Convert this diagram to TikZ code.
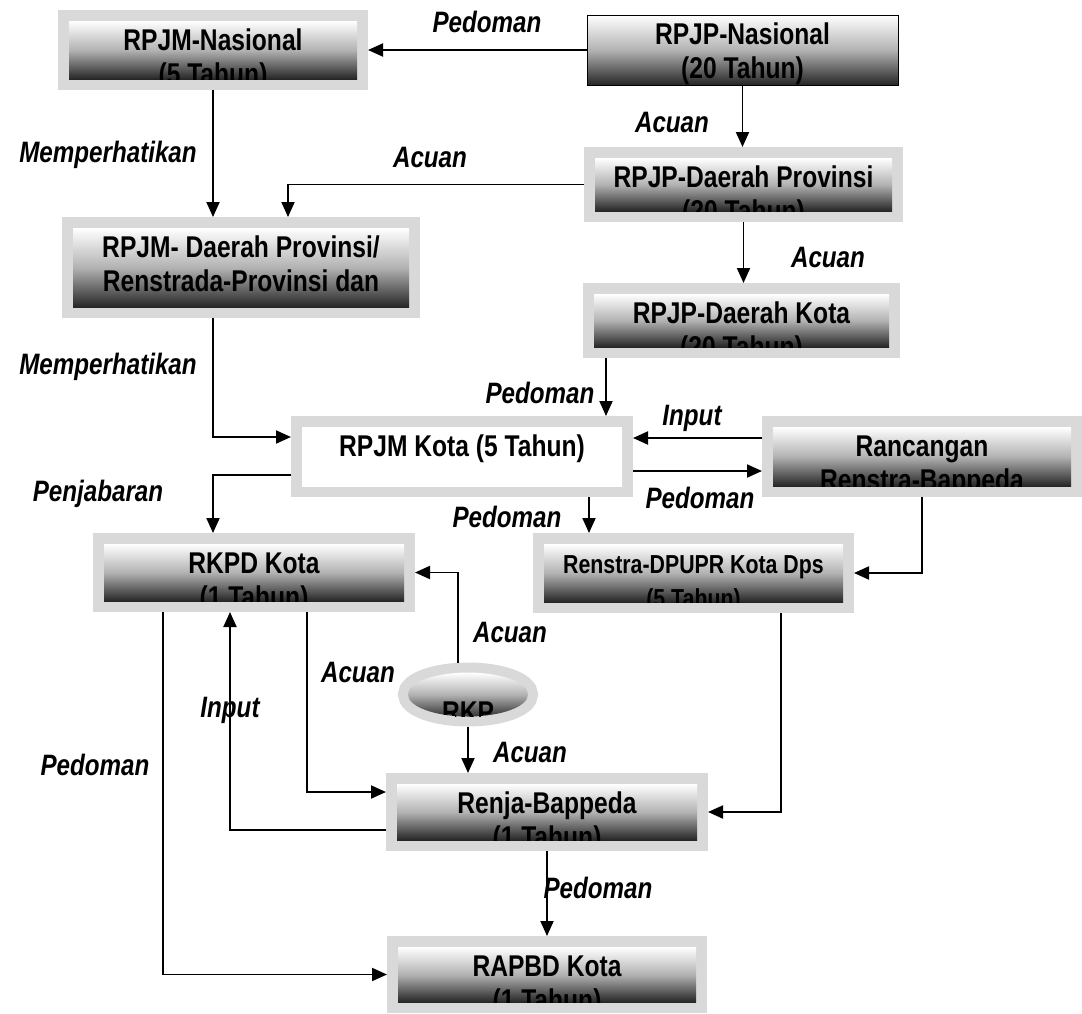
\documentclass[tikz,border=0pt]{standalone}
\usepackage{fontspec}
\setmainfont{Liberation Sans}[FakeStretch=0.82]
\usetikzlibrary{arrows.meta,shapes.geometric}
\definecolor{bingkai}{HTML}{D9D9D9}

\begin{document}
\begin{tikzpicture}[x=1pt, y=-1pt,
    teks/.style={anchor=base, inner sep=0pt, font=\fontsize{30}{34}\selectfont\bfseries},
    ket/.style={inner sep=0pt, font=\fontsize{29.5}{33}\selectfont\bfseries\itshape},
    isi/.style 2 args={rectangle, inner sep=0pt,
      top color=white, bottom color=black!85, middle color=black!30,
      path picture={
        \node[teks] at ([yshift=-29pt]path picture bounding box.north) {#1};
        \node[teks] at ([yshift=-63pt]path picture bounding box.north) {#2};}},
    kotak/.style 2 args={isi={#1}{#2}, outer sep=11pt, preaction={draw=bingkai, line width=22pt}},
    bulat/.style={ellipse, inner sep=0pt, outer sep=10pt, preaction={draw=bingkai, line width=20pt},
      top color=white, bottom color=black!80, middle color=black!30},
    panah/.style={-{Triangle[length=15pt,width=13pt]}, line width=1.9pt}]
  \useasboundingbox (0,0) rectangle (1082,1013);

  \node[kotak={RPJM-Nasional}{(5 Tahun)}, minimum width=288pt, minimum height=58pt] (rpjmnas) at (213,50) {};
  \node[isi={RPJP-Nasional}{(20 Tahun)}, draw, line width=1pt, minimum width=311pt, minimum height=70pt] (rpjpnas) at (742.5,50) {};
  \node[kotak={RPJP-Daerah Provinsi}{(20 Tahun)}, minimum width=297pt, minimum height=53pt] (rpjpprov) at (743.5,184.5) {};
  \node[kotak={RPJM- Daerah Provinsi/}{Renstrada-Provinsi dan}, minimum width=336pt, minimum height=79pt] (rpjmprov) at (241,267.5) {};
  \node[kotak={RPJP-Daerah Kota}{(20 Tahun)}, minimum width=295pt, minimum height=53pt] (rpjpdkota) at (741.5,320.5) {};
  \node[kotak={RPJM Kota (5 Tahun)}{}, top color=white, bottom color=white, middle color=white,
    minimum width=320pt, minimum height=59pt] (rpjmkota) at (462,456.5) {};
  \node[kotak={Rancangan}{Renstra-Bappeda}, minimum width=298pt, minimum height=59pt] (rancangan) at (922,456.5) {};
  \node[kotak={RKPD Kota}{(1 Tahun)}, minimum width=300pt, minimum height=57pt] (rkpd) at (254,572.5) {};
  \node[kotak={Renstra-DPUPR Kota Dps}{(5 Tahun)}, teks/.append style={font=\fontsize{26}{30}\selectfont\bfseries},
    minimum width=299pt, minimum height=58pt] (renstra) at (693.5,573) {};
  \node[bulat, minimum width=120pt, minimum height=44pt,
    path picture={\node[teks] at ([yshift=-50pt]path picture bounding box.north) {RKP};}] (rkp) at (468,694.5) {};
  \node[kotak={Renja-Bappeda}{(1 Tahun)}, minimum width=300pt, minimum height=56pt] (renja) at (547,812) {};
  \node[kotak={RAPBD Kota}{(1 Tahun)}, minimum width=298pt, minimum height=55pt] (rapbd) at (547,974.5) {};

  \draw[panah] (rpjpnas) -- (rpjmnas);
  \draw[panah] (rpjpnas.south) -- (rpjpnas.south |- rpjpprov.north);
  \draw[panah] (rpjmnas.south) -- (rpjmnas.south |- rpjmprov.north);
  \draw[panah] (rpjpprov.west) -| ([xshift=47pt]rpjmprov.north);
  \draw[panah] (rpjpprov.south) -- (rpjpprov.south |- rpjpdkota.north);
  \draw[panah] ([xshift=-28pt]rpjmprov.south) |- ([yshift=19.5pt]rpjmkota.west);
  \draw[panah] ([xshift=23pt]rpjpdkota.south west) -- ([xshift=23pt]rpjpdkota.south west |- rpjmkota.north);
  \draw[panah] ([yshift=18.5pt]rancangan.west) -- ([yshift=18.5pt]rpjmkota.east);
  \draw[panah] ([yshift=-14.5pt]rpjmkota.east) -- ([yshift=-14.5pt]rancangan.west);
  \draw[panah] ([yshift=-18.5pt]rpjmkota.west) -| ([xshift=-41pt]rkpd.north);
  \draw[panah] ([xshift=56pt]renstra.north west |- rpjmkota.south) -- ([xshift=56pt]renstra.north west);
  \draw[panah] (rancangan.south) |- (renstra.east);
  \draw[panah] ([xshift=-10pt]rkp.north) |- (rkpd.east);
  \draw[panah] (rkp.south) -- (rkp.south |- renja.north);
  \draw[panah] ([xshift=53pt]rkpd.south) |- ([yshift=20pt]renja.west);
  \draw[panah] ([yshift=-18pt]renja.west) -| ([xshift=-24pt]rkpd.south);
  \draw[panah] ([xshift=-91pt]rkpd.south) |- (rapbd.west);
  \draw[panah] ([xshift=87.5pt]renstra.south) |- (renja.east);
  \draw[panah] (renja.south) -- (rapbd.north);

  \node[ket] (k1) at (487,22) {Pedoman};
  \node[ket] (k2) at (672,122) {Acuan};
  \node[ket] (k3) at (108,155) {Memperhatikan};
  \node[ket] (k4) at (430,157) {Acuan};
  \node[ket] (k5) at (828,257) {Acuan};
  \node[ket] (k6) at (108,367) {Memperhatikan};
  \node[ket] (k7) at (540,393) {Pedoman};
  \node[ket] (k8) at (692,418) {Input};
  \node[ket] (k9) at (98,494) {Penjabaran};
  \node[ket] (k10) at (700,498) {Pedoman};
  \node[ket] (k11) at (507,517) {Pedoman};
  \node[ket] (k12) at (510,632) {Acuan};
  \node[ket] (k13) at (358,672) {Acuan};
  \node[ket] (k14) at (230,710) {Input};
  \node[ket] (k15) at (530,752) {Acuan};
  \node[ket] (k16) at (95,765) {Pedoman};
  \node[ket] (k17) at (598,888) {Pedoman};
\end{tikzpicture}
\end{document}
